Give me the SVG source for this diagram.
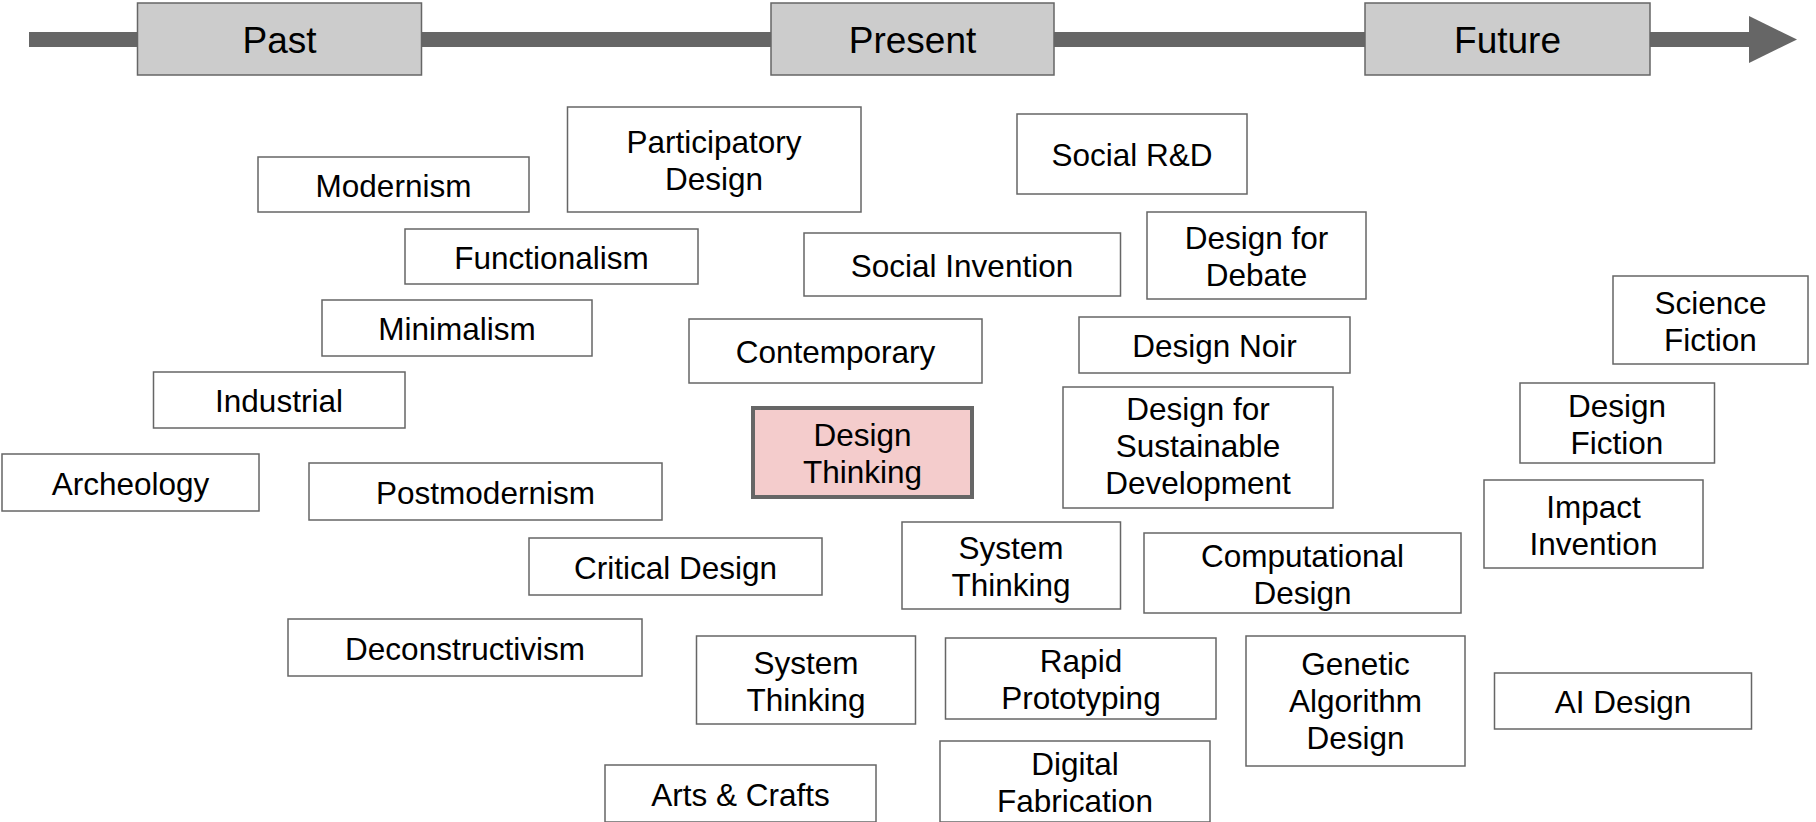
<svg xmlns="http://www.w3.org/2000/svg" width="1816" height="822" viewBox="0 0 1816 822">
<style>
.box{fill:#ffffff;stroke:#666666;stroke-width:1.5}
.era{fill:#cccccc;stroke:#666666;stroke-width:1.5}
.hl{fill:#f4cccc;stroke:#666666;stroke-width:4}
text{font-family:"Liberation Sans",Arial,Helvetica,sans-serif;font-size:31.5px;fill:#000000;text-anchor:middle}
.t{font-size:37px}
</style>
<rect width="1816" height="822" fill="#ffffff"/>
<g id="connectors">
<rect x="29" y="32" width="1722" height="15" fill="#666666"/>
<polygon points="1749,16 1797,39.5 1749,63" fill="#666666"/>
</g>
<g id="past"><rect class="era" x="137.5" y="3" width="284" height="72"/><text class="t" x="279.5" y="52.5">Past</text></g>
<g id="present"><rect class="era" x="771" y="3" width="283" height="72"/><text class="t" x="912.5" y="52.5">Present</text></g>
<g id="future"><rect class="era" x="1365" y="3" width="285" height="72"/><text class="t" x="1507.5" y="52.5">Future</text></g>

<g id="modernism"><rect class="box" x="258" y="157" width="271" height="55"/><text x="393.5" y="197">Modernism</text></g>
<g id="participatory-design"><rect class="box" x="567.5" y="107" width="293.5" height="105"/><text x="714" y="153">Participatory<tspan x="714" dy="37">Design</tspan></text></g>
<g id="functionalism"><rect class="box" x="405" y="229" width="293" height="55"/><text x="551.5" y="269">Functionalism</text></g>
<g id="minimalism"><rect class="box" x="322" y="300" width="270" height="56"/><text x="457" y="340">Minimalism</text></g>
<g id="industrial"><rect class="box" x="153.5" y="372" width="251.5" height="56"/><text x="279" y="412">Industrial</text></g>
<g id="archeology"><rect class="box" x="2" y="454" width="257" height="57"/><text x="130.5" y="494.5">Archeology</text></g>
<g id="postmodernism"><rect class="box" x="309" y="463" width="353" height="57"/><text x="485.5" y="503.5">Postmodernism</text></g>
<g id="critical-design"><rect class="box" x="529" y="538" width="293" height="57"/><text x="675.5" y="578.5">Critical Design</text></g>
<g id="deconstructivism"><rect class="box" x="288" y="619" width="354" height="57"/><text x="465" y="659.5">Deconstructivism</text></g>
<g id="system-thinking-2"><rect class="box" x="696.5" y="636" width="219" height="88"/><text x="806" y="673.5">System<tspan x="806" dy="37">Thinking</tspan></text></g>
<g id="arts-crafts"><rect class="box" x="605" y="765" width="271" height="57"/><text x="740.5" y="806">Arts &amp; Crafts</text></g>
<g id="social-invention"><rect class="box" x="804" y="233" width="316.5" height="63"/><text x="962" y="276.5">Social Invention</text></g>
<g id="contemporary"><rect class="box" x="689" y="319" width="293" height="64"/><text x="835.5" y="362.5">Contemporary</text></g>
<g id="design-thinking"><rect class="hl" x="753" y="408" width="219" height="89"/><text x="862.5" y="446">Design<tspan x="862.5" dy="37">Thinking</tspan></text></g>
<g id="social-rd"><rect class="box" x="1017" y="114" width="230" height="80"/><text x="1132" y="166">Social R&amp;D</text></g>
<g id="design-for-debate"><rect class="box" x="1147" y="212" width="219" height="87"/><text x="1256.5" y="249">Design for<tspan x="1256.5" dy="37">Debate</tspan></text></g>
<g id="design-noir"><rect class="box" x="1079" y="317" width="271" height="56"/><text x="1214.5" y="357">Design Noir</text></g>
<g id="design-sustainable"><rect class="box" x="1063" y="387" width="270" height="121"/><text x="1198" y="420">Design for<tspan x="1198" dy="37">Sustainable</tspan><tspan x="1198" dy="37">Development</tspan></text></g>
<g id="system-thinking-1"><rect class="box" x="902" y="522" width="218.5" height="87"/><text x="1011" y="559">System<tspan x="1011" dy="37">Thinking</tspan></text></g>
<g id="computational-design"><rect class="box" x="1144" y="533" width="317" height="80"/><text x="1302.5" y="566.5">Computational<tspan x="1302.5" dy="37">Design</tspan></text></g>
<g id="rapid-prototyping"><rect class="box" x="945.5" y="638" width="270.5" height="81"/><text x="1081" y="672">Rapid<tspan x="1081" dy="37">Prototyping</tspan></text></g>
<g id="genetic-algorithm-design"><rect class="box" x="1246" y="636" width="219" height="130"/><text x="1355.5" y="674.5">Genetic<tspan x="1355.5" dy="37">Algorithm</tspan><tspan x="1355.5" dy="37">Design</tspan></text></g>
<g id="digital-fabrication"><rect class="box" x="940" y="741" width="270" height="81"/><text x="1075" y="775">Digital<tspan x="1075" dy="37">Fabrication</tspan></text></g>
<g id="science-fiction"><rect class="box" x="1613" y="276" width="195" height="88"/><text x="1710.5" y="313.5">Science<tspan x="1710.5" dy="37">Fiction</tspan></text></g>
<g id="design-fiction"><rect class="box" x="1520" y="383" width="194.5" height="80"/><text x="1617" y="416.5">Design<tspan x="1617" dy="37">Fiction</tspan></text></g>
<g id="impact-invention"><rect class="box" x="1484" y="480" width="219" height="88"/><text x="1593.5" y="517.5">Impact<tspan x="1593.5" dy="37">Invention</tspan></text></g>
<g id="ai-design"><rect class="box" x="1494.5" y="673" width="257" height="56"/><text x="1623" y="713">AI Design</text></g>
</svg>
